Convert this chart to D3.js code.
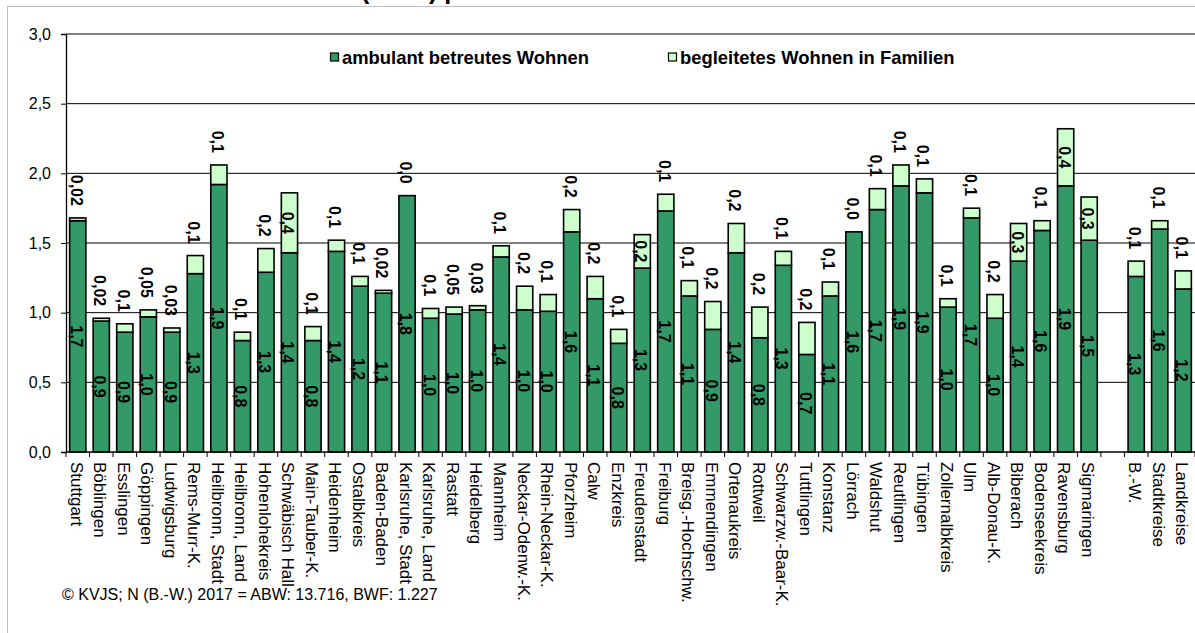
<!DOCTYPE html>
<html lang="de">
<head>
<meta charset="utf-8">
<script src="https://cdn.jsdelivr.net/npm/d3@7"></script>
<style>
  html, body { margin: 0; padding: 0; background: #fff; }
  svg { display: block; font-family: "Liberation Sans", Arial, sans-serif; }
</style>
</head>
<body>
<svg id="chart" width="1195" height="633"></svg>
<script>
// Kreise, dann die drei Summenbalken (durch eine Lücke getrennt)
const districts = [
  "Stuttgart", "Böblingen", "Esslingen", "Göppingen", "Ludwigsburg", "Rems-Murr-K.",
  "Heilbronn, Stadt", "Heilbronn, Land", "Hohenlohekreis", "Schwäbisch Hall", "Main-Tauber-K.",
  "Heidenheim", "Ostalbkreis", "Baden-Baden", "Karlsruhe, Stadt", "Karlsruhe, Land", "Rastatt",
  "Heidelberg", "Mannheim", "Neckar-Odenw.-K.", "Rhein-Neckar-K.", "Pforzheim", "Calw",
  "Enzkreis", "Freudenstadt", "Freiburg", "Breisg.-Hochschw.", "Emmendingen", "Ortenaukreis",
  "Rottweil", "Schwarzw.-Baar-K.", "Tuttlingen", "Konstanz", "Lörrach", "Waldshut",
  "Reutlingen", "Tübingen", "Zollernalbkreis", "Ulm", "Alb-Donau-K.", "Biberach",
  "Bodenseekreis", "Ravensburg", "Sigmaringen"
];
const totals = ["B.-W.", "Stadtkreise", "Landkreise"];

// Leistungsempfänger pro 1.000 Einwohner
const ambulant = [
  1.66, 0.94, 0.86, 0.97, 0.86, 1.28,
  1.92, 0.80, 1.29, 1.43, 0.80,
  1.44, 1.19, 1.14, 1.84, 0.96, 0.99,
  1.02, 1.40, 1.02, 1.01, 1.58, 1.10,
  0.78, 1.32, 1.73, 1.12, 0.88, 1.43,
  0.82, 1.34, 0.70, 1.12, 1.58, 1.74,
  1.91, 1.86, 1.04, 1.68, 0.96, 1.37,
  1.59, 1.91, 1.52,
  1.26, 1.60, 1.17
];
const familien = [
  0.02, 0.02, 0.06, 0.05, 0.03, 0.13,
  0.14, 0.06, 0.17, 0.43, 0.10,
  0.08, 0.07, 0.02, 0.00, 0.07, 0.05,
  0.03, 0.08, 0.17, 0.12, 0.16, 0.16,
  0.10, 0.24, 0.12, 0.11, 0.20, 0.21,
  0.22, 0.10, 0.23, 0.10, 0.00, 0.15,
  0.15, 0.10, 0.06, 0.07, 0.17, 0.27,
  0.07, 0.41, 0.31,
  0.11, 0.06, 0.13
];

const yTicks = [0, 0.5, 1, 1.5, 2, 2.5, 3];
const seriesNames = ["ambulant betreutes Wohnen", "begleitetes Wohnen in Familien"];
const seriesColors = ["#339966", "#CCFFCC"];
const footnote = "© KVJS; N (B.-W.) 2017 = ABW: 13.716, BWF: 1.227";

const names = districts.concat(totals);
const GAP = "\u2009";
const domain = districts.concat([GAP], totals);
const rows = names.map((name, i) => ({ name, a: ambulant[i], f: familien[i] }));

const svg = d3.select("#chart");
const plotLeft = 66, plotRight = 1195, plotTop = 34, plotBottom = 452;

const x = d3.scaleBand().domain(domain).range([plotLeft, plotRight])
  .paddingInner(0.31).paddingOuter(0.155);
const y = d3.scaleLinear().domain([0, 3]).range([plotBottom, plotTop]);

const comma = s => s.replace(".", ",");
const fmtA = v => comma(v.toFixed(1));
const fmtF = v => comma((v > 0 && v <= 0.05) ? v.toFixed(2) : v.toFixed(1));

// äußerer Rahmen des Diagrammbereichs
svg.append("rect").attr("x", 7.5).attr("y", 6.5).attr("width", 1300).attr("height", 700)
  .attr("fill", "none").attr("stroke", "#c0c0c0").attr("stroke-width", 1);

// Titel (oberhalb des Rahmens)
svg.append("text").attr("x", 356).attr("y", -1).attr("text-anchor", "end")
  .attr("font-size", 25).attr("font-weight", "bold").text("Betreutes Wohnen ");
svg.append("text").attr("x", 361).attr("y", -1)
  .attr("font-size", 25).attr("font-weight", "bold").text("(ABW) pro 1.000 Einwohner");

// Gitterlinien
svg.append("g").selectAll("line").data(yTicks.filter(t => t > 0)).join("line")
  .attr("x1", plotLeft).attr("x2", plotRight)
  .attr("y1", d => y(d)).attr("y2", d => y(d))
  .attr("stroke", "#000").attr("stroke-width", 1);

// Y-Achse
const yAxis = d3.axisLeft(y).tickValues(yTicks).tickSize(5).tickPadding(10)
  .tickFormat(d => comma(d.toFixed(1)));
const gy = svg.append("g").attr("transform", `translate(${plotLeft},0)`).call(yAxis);
gy.select(".domain").attr("stroke", "#000").attr("stroke-width", 1.3);
gy.selectAll(".tick line").attr("stroke", "#000");
gy.selectAll(".tick text").attr("font-size", 16).attr("fill", "#000")
  .attr("font-family", "Liberation Sans, Arial, sans-serif");

// Balken
const bars = svg.append("g");
const bw = x.bandwidth();
bars.selectAll("rect.a").data(rows).join("rect").attr("class", "a")
  .attr("x", d => x(d.name)).attr("width", bw)
  .attr("y", d => y(d.a)).attr("height", d => y(0) - y(d.a))
  .attr("fill", seriesColors[0]).attr("stroke", "#000").attr("stroke-width", 1.6);
bars.selectAll("rect.f").data(rows.filter(d => d.f > 0)).join("rect").attr("class", "f")
  .attr("x", d => x(d.name)).attr("width", bw)
  .attr("y", d => y(d.a + d.f)).attr("height", d => y(d.a) - y(d.a + d.f))
  .attr("fill", seriesColors[1]).attr("stroke", "#000").attr("stroke-width", 1.6);

// X-Achse mit Teilstrichen an den Kategoriegrenzen
svg.append("line").attr("x1", plotLeft).attr("x2", plotRight).attr("y1", plotBottom).attr("y2", plotBottom)
  .attr("stroke", "#000").attr("stroke-width", 1.3);
const step = x.step();
const bounds = d3.range(domain.length + 1).map(i => plotLeft + i * step);
svg.append("g").selectAll("line").data(bounds).join("line")
  .attr("x1", d => d).attr("x2", d => d).attr("y1", plotBottom).attr("y2", plotBottom + 5)
  .attr("stroke", "#000");

// Kategoriebeschriftungen (senkrecht)
svg.append("g").selectAll("text").data(domain.filter(d => d !== GAP)).join("text")
  .attr("transform", d => `translate(${x(d) + bw / 2},${plotBottom + 10}) rotate(90)`)
  .attr("dy", "0.42em").attr("font-size", 17).attr("fill", "#000").text(d => d);

// Werte im grünen Segment
const labels = svg.append("g").attr("font-weight", "bold").attr("font-size", 16).attr("fill", "#000");
labels.selectAll("text.a").data(rows).join("text").attr("class", "a")
  .attr("transform", d => `translate(${x(d.name) + bw / 2},${(y(0) + y(d.a)) / 2}) rotate(90)`)
  .attr("text-anchor", "middle").attr("dy", "0.44em").text(d => fmtA(d.a));

// Werte des hellen Segments: im Segment, falls Platz, sonst über dem Balken
const fits = d => (y(d.a) - y(d.a + d.f)) >= 33;
labels.selectAll("text.f").data(rows).join("text").attr("class", "f")
  .attr("transform", d => {
    const cx = x(d.name) + bw / 2;
    const cy = fits(d) ? (y(d.a) + y(d.a + d.f)) / 2 : y(d.a + d.f) - 12;
    return `translate(${cx},${cy}) rotate(90)`;
  })
  .attr("text-anchor", d => fits(d) ? "middle" : "end")
  .attr("dy", "0.44em").text(d => fmtF(d.f));

// Legende
const legend = svg.append("g");
const legendX = [330, 668];
seriesNames.forEach((name, i) => {
  legend.append("rect").attr("x", legendX[i] + 0.5).attr("y", 53).attr("width", 8).attr("height", 8)
    .attr("fill", seriesColors[i]).attr("stroke", "#000").attr("stroke-width", 1.2);
  legend.append("text").attr("x", legendX[i] + 12).attr("y", 64)
    .attr("font-size", 18.4).attr("font-weight", "bold").attr("fill", "#000").text(name);
});

// Quellenangabe
svg.append("text").attr("x", 62).attr("y", 600).attr("font-size", 16).attr("fill", "#000")
  .text(footnote);
</script>
</body>
</html>
